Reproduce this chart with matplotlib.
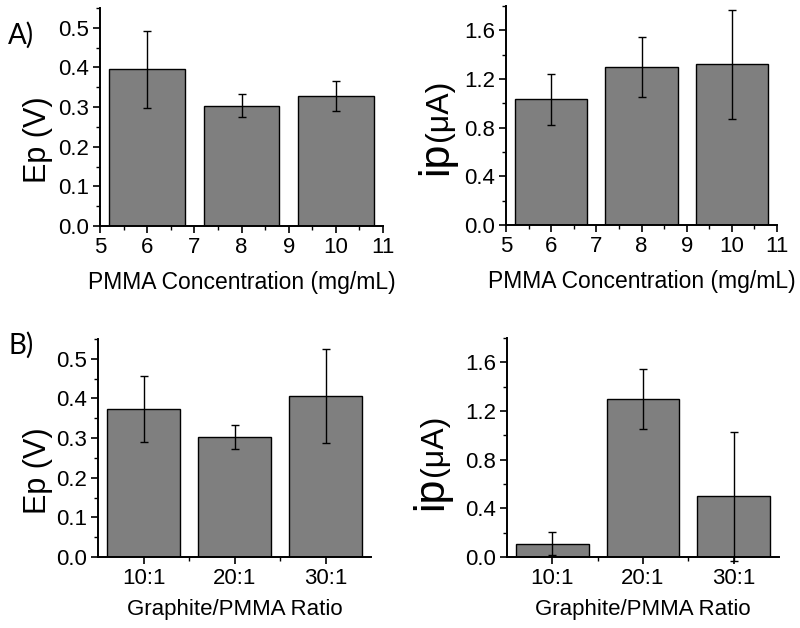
import matplotlib
matplotlib.use("Agg")
from matplotlib import pyplot as plt
from matplotlib.ticker import MultipleLocator, FormatStrFormatter

plt.rcParams["font.family"] = ["Liberation Sans", "DejaVu Sans"]

# Data
# ------------------------
conc = [6, 8, 10]
ep_conc = [0.395, 0.304, 0.327]
ep_conc_err = [0.097, 0.029, 0.038]
ip_conc = [1.035, 1.299, 1.320]
ip_conc_err = [0.21, 0.25, 0.45]

ratios = ["10:1", "20:1", "30:1"]
ep_ratio = [0.373, 0.303, 0.407]
ep_ratio_err = [0.083, 0.030, 0.119]
ip_ratio = [0.110, 1.298, 0.500]
ip_ratio_err = [0.096, 0.247, 0.530]

W, H = 800, 628
fig = plt.figure(figsize=(W / 100, H / 100), dpi=100)


def px_axes(x0, y0, x1, y1):
    return fig.add_axes([x0 / W, 1 - y1 / H, (x1 - x0) / W, (y1 - y0) / H])


ax_a1 = px_axes(100, 8, 383, 226)
ax_a2 = px_axes(506, 6, 777, 225)
ax_b1 = px_axes(98, 339, 371, 557)
ax_b2 = px_axes(507, 338, 779, 557)

bar_kw = dict(color="#7f7f7f", edgecolor="black", linewidth=1.0, zorder=2)
err_kw = dict(fmt="none", ecolor="black", elinewidth=1.0, capsize=3, capthick=1.0, zorder=3)

# Top row: PMMA concentration
ax_a1.bar(conc, ep_conc, width=1.6, **bar_kw)
ax_a1.errorbar(conc, ep_conc, yerr=ep_conc_err, **err_kw)
ax_a2.bar(conc, ip_conc, width=1.6, **bar_kw)
ax_a2.errorbar(conc, ip_conc, yerr=ip_conc_err, **err_kw)

# Bottom row: graphite/PMMA ratio
pos = list(range(1, len(ratios) + 1))
ax_b1.bar(pos, ep_ratio, width=0.8, **bar_kw)
ax_b1.errorbar(pos, ep_ratio, yerr=ep_ratio_err, **err_kw)
ax_b2.bar(pos, ip_ratio, width=0.8, **bar_kw)
eb = ax_b2.errorbar(pos, ip_ratio, yerr=ip_ratio_err, **err_kw)
for art in eb.lines[2] + eb.lines[1]:
    art.set_clip_on(False)

for ax in (ax_a1, ax_a2):
    ax.set_xlim(5, 11)
    ax.xaxis.set_major_locator(MultipleLocator(1))
    ax.xaxis.set_minor_locator(MultipleLocator(0.5))
    ax.set_xlabel("PMMA Concentration (mg/mL)", fontsize=16.5, labelpad=9)

for ax in (ax_b1, ax_b2):
    ax.set_xlim(0.5, 3.5)
    ax.set_xticks(pos)
    ax.set_xticklabels(ratios)
    ax.set_xticks([1.5, 2.5], minor=True)
    ax.set_xlabel("Graphite/PMMA Ratio", fontsize=16, labelpad=7)

for ax in (ax_a1, ax_b1):
    ax.set_ylim(0, 0.55)
    ax.yaxis.set_major_locator(MultipleLocator(0.1))
    ax.yaxis.set_minor_locator(MultipleLocator(0.05))
    ax.yaxis.set_major_formatter(FormatStrFormatter("%.1f"))

for ax in (ax_a2, ax_b2):
    ax.set_ylim(0, 1.8)
    ax.yaxis.set_major_locator(MultipleLocator(0.4))
    ax.yaxis.set_minor_locator(MultipleLocator(0.2))
    ax.yaxis.set_major_formatter(FormatStrFormatter("%.1f"))

for ax in (ax_a1, ax_a2, ax_b1, ax_b2):
    ax.spines["top"].set_visible(False)
    ax.spines["right"].set_visible(False)
    ax.spines["left"].set_linewidth(1.4)
    ax.spines["bottom"].set_linewidth(1.4)
    ax.tick_params(which="major", direction="out", length=5, width=1.2, labelsize=16, pad=3)
    ax.tick_params(which="minor", direction="out", length=3, width=1.0)

# Y labels
ep_kw = dict(rotation=90, rotation_mode="anchor", ha="center", va="baseline", fontsize=22)
fig.text(46 / W, 1 - 140 / H, "Ep (V)", **ep_kw)
fig.text(46 / W, 1 - 471 / H, "Ep (V)", **ep_kw)

# "ip" drawn larger than "(μA)", the second part starts where the first ends
ip_kw = dict(rotation=90, rotation_mode="anchor", ha="left", va="baseline")
fig.canvas.draw()
renderer = fig.canvas.get_renderer()
for bx, by in ((447, 175), (442, 510)):
    t = fig.text(bx / W, 1 - by / H, "ip", fontsize=31, **ip_kw)
    bb = t.get_window_extent(renderer)
    fig.text(bx / W, (bb.y1 + 1) / H, "(μA)", fontsize=23, **ip_kw)

# Panel letters
fig.text(21 / W, 1 - 35 / H, "A)", fontsize=20, family=["Lato", "DejaVu Sans"], ha="center", va="center")
fig.text(21 / W, 1 - 345 / H, "B)", fontsize=20, family=["Lato", "DejaVu Sans"], ha="center", va="center")

fig.savefig("out.png", dpi=100)
